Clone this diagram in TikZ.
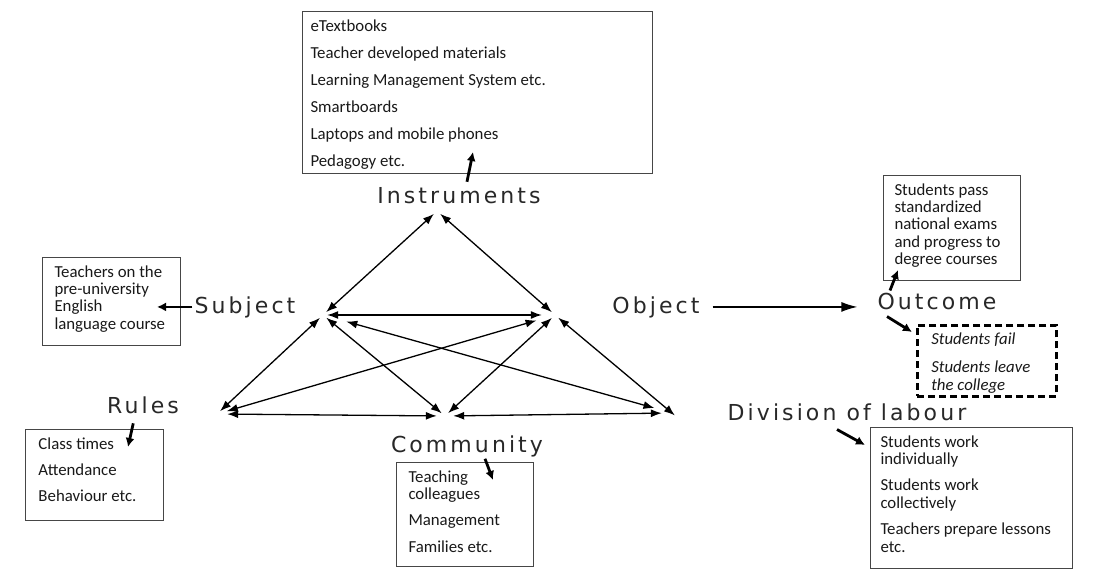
\documentclass[tikz,border=0pt]{standalone}
\usepackage{fontspec}
\setmainfont{Carlito}
\newfontfamily\labelfont[LetterSpace=14]{DejaVu Sans}
\usetikzlibrary{arrows.meta, calc, positioning}
\definecolor{boxgray}{RGB}{70, 70, 70}
\definecolor{labelgray}{RGB}{40, 40, 40}

\newcommand{\boxfont}{\fontsize{16.8}{17.4}\selectfont}
% width, height, left padding, lines
\newcommand{\boxtext}[4]{\parbox[t][#2][t]{#1}{\raggedright\leftskip=#3\vspace*{7.5pt}\strut #4}}

\begin{document}
\begin{tikzpicture}[x=1pt, y=-1pt, >=Latex,
	lbl/.style={font=\labelfont\fontsize{22}{26}\selectfont, text=labelgray, inner sep=2pt, anchor=base},
	infobox/.style={draw=boxgray, line width=1pt, inner sep=0pt, anchor=north west, font=\boxfont, text=black!90},
	hub/.style={circle, inner sep=0pt, minimum size=8pt},
	link/.style={{Latex[length=11pt,width=8pt]}-{Latex[length=11pt,width=8pt]}, line width=1.3pt},
	fat/.style={-{Latex[length=9pt,width=9pt]}, line width=2.8pt}]
	
	% canvas
	\useasboundingbox[fill=white] (0,0) rectangle (1110,569);
	
	% activity labels
	\node[lbl] (lInstr) at (459,204) {Instruments};
	\node[lbl] (lSubj) at (245,313) {Subject};
	\node[lbl] (lObj) at (656,313) {Object};
	\node[lbl] (lRules) at (143,413) {Rules};
	\node[lbl] (lComm) at (467,452) {Community};
	\node[lbl] (lDiv) at (847,420) {Division of labour};
	\node[lbl] (lOut) at (937,309) {Outcome};
	
	% boxes
	\node[infobox] (tools) at (302,11) {\boxtext{350pt}{162pt}{8pt}{eTextbooks\\[9.6pt]
		Teacher developed materials\\[9.6pt] Learning Management System etc.\\[9.6pt]
		Smartboards\\[9.6pt] Laptops and mobile phones\\[9.6pt] Pedagogy etc.}};
	\node[infobox] (subjbox) at (42,257) {\boxtext{138pt}{88pt}{12pt}{Teachers on the\\
		pre-university\\ English\\ language course}};
	\node[infobox] (rulesbox) at (25,429) {\boxtext{138pt}{91pt}{13pt}{Class times\\[8.6pt]
		Attendance\\[8.6pt] Behaviour etc.}};
	\node[infobox] (commbox) at (396,462) {\boxtext{137pt}{104pt}{12pt}{Teaching\\ colleagues\\[8.6pt]
		Management\\[10pt] Families etc.}};
	\node[infobox] (divbox) at (870,427) {\boxtext{202pt}{141pt}{10pt}{Students work\\ individually\\[9pt]
		Students work\\ collectively\\[9pt] Teachers prepare lessons\\ etc.}};
	\node[infobox] (passbox) at (883,175) {\boxtext{137pt}{105pt}{11pt}{Students pass\\
		standardized\\ national exams\\ and progress to\\ degree courses}};
	\node[infobox, draw=black, line width=2.6pt, dash pattern=on 7pt off 4pt] (failbox) at (916,324)
		{\boxtext{139pt}{71pt}{14pt}{\itshape Students fail\\[10.6pt] Students leave\\ the college}};
	
	% hubs of the triangle
	\node[hub] (hI) at (437,211) {};
	\node[hub] (hS) at (323,315) {};
	\node[hub] (hO) at (555,315) {};
	\node[hub] (hR) at (217,414) {};
	\node[hub] (hC) at (445,416) {};
	\node[hub] (hD) at (672,413) {};
	
	% two-way links
	\foreach \a/\b in {hI/hS, hI/hO, hS/hR, hS/hC, hO/hC}
		\draw[link] (\a) -- (\b);
	\draw[link, shorten >=9pt] (hS) -- (hO);
	\draw[link, shorten <=20pt, shorten >=14pt] (hS) -- (hD);
	\draw[link, shorten <=15pt, shorten >=6pt] (hO) -- (hR);
	\draw[link, shorten >=-8pt] (hO) -- (hD);
	\draw[link, shorten <=6pt, shorten >=4pt] (hR) -- (hC);
	\draw[link, shorten <=4pt, shorten >=6pt] (hC) -- (hD);
	
	% object to outcome
	\draw[-{Latex[length=16pt,width=10pt]}, line width=1.3pt, shorten <=11pt, shorten >=18pt]
		(lObj.east) -- (lObj.east -| lOut.west);
	
	% arrow ends inside the boxes
	\coordinate (tTools) at (473,152);
	\coordinate (tSubj) at (157,306);
	\coordinate (tRules) at (128,447);
	\coordinate (tComm) at (493,480);
	\coordinate (tDiv) at (865,445);
	\coordinate (tPass) at (898,270);
	\coordinate (tFail) at (912,332);
	
	% label to box arrows
	\draw[fat] ([xshift=8pt,yshift=4pt]lInstr.north) -- (tTools);
	\draw[fat] (lSubj.west) -- (lSubj.west -| tSubj);
	\draw[fat, shorten <=8pt] ([xshift=-8pt]lRules.south) -- (tRules);
	\draw[fat] ([xshift=18pt]lComm.south) -- (tComm);
	\draw[fat] ([xshift=-10pt,yshift=-7pt]lDiv.south) -- (tDiv);
	\draw[fat] ([xshift=-47pt]lOut.north) -- (tPass);
	\draw[fat] ([xshift=-50pt,yshift=-5pt]lOut.south) -- (tFail);
	
\end{tikzpicture}
\end{document}
